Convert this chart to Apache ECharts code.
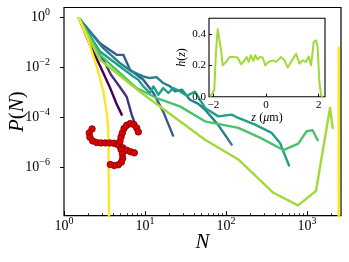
<!DOCTYPE html>
<html><head><meta charset="utf-8">
<script src="https://cdn.jsdelivr.net/npm/echarts@6/dist/echarts.min.js"></script>
<style>html,body{margin:0;padding:0;background:#fff}#c{width:349px;height:262px}</style>
</head><body><div id="c"></div>
<script>
// ---- tick values ----
const xMajorTicks = [1, 10, 100, 1000];
const xMinorTicks = [2,3,4,5,6,7,8,9,20,30,40,50,60,70,80,90,200,300,400,500,600,700,800,900,2000];
const yMajorTicks = [1e-6, 1e-4, 1e-2, 1];
const insetXTicks = [-2, 0, 2];
const insetYTicks = [0, 0.2, 0.4];

// ---- main panel series: N values and P(N) values ----
const purpleN = [1.53, 2.09, 2.82, 3.70, 4.39, 5.16];
const purpleP = [0.91, 0.0785, 0.0104, 1.51e-3, 3.82e-4, 1.27e-4];
const indigoN = [1.53, 2.22, 3.06, 3.80, 4.68, 5.94, 6.85, 8.27];
const indigoP = [0.91, 0.0944, 0.0198, 4.99e-3, 2.0e-3, 6.6e-4, 1.27e-4, 2.36e-5];
const blueN = [1.53, 2.78, 4.47, 5.40, 6.53, 9.53, 12.7, 16.8, 22.2];
const blueP = [0.91, 0.0918, 0.0313, 0.0313, 7.9e-3, 3.16e-3, 9.3e-4, 1.67e-4, 1.84e-5];
const tealN = [1.53, 3.06, 4.91, 6.85, 9.53, 11.5, 13.9, 16.8, 20.4, 23.5, 28.6, 35.9, 45.1, 55.1, 79.6, 117.5];
const tealP = [0.91, 0.058, 0.0146, 6.8e-3, 4.27e-3, 3.69e-3, 4.04e-3, 2.33e-3, 1.71e-3, 1.08e-3, 1.26e-3, 5.0e-4, 3.48e-4, 2.0e-4, 5.06e-5, 8.05e-6];
const tealGreenN = [1.53, 2.78, 4.91, 7.17, 8.27, 9.53, 11.5, 12.7, 14.6, 16.8, 19.4, 22.4, 27.0, 33.0, 41.4, 55.1, 80.3, 117.5, 142, 228, 367, 464, 600];
const tealGreenP = [0.91, 0.0425, 0.0107, 4.27e-3, 3.16e-3, 1.71e-3, 9.3e-4, 1.71e-3, 7.9e-4, 1.47e-3, 9.3e-4, 1.47e-3, 1.08e-3, 7.26e-4, 1.05e-3, 2.34e-4, 1.08e-4, 1.27e-4, 9.35e-5, 5.06e-5, 2.36e-5, 9.4e-6, 1.17e-6];
const greenN = [1.53, 2.78, 4.91, 7.90, 13.9, 27.0, 55.1, 142, 263, 510, 781, 991, 1175, 1356];
const greenP = [0.91, 0.0313, 5.83e-3, 1.47e-3, 5.87e-4, 2.72e-4, 6.85e-5, 3.73e-5, 1.53e-5, 4.86e-6, 8.83e-6, 2.74e-5, 3.0e-5, 1.2e-5];
const limeN = [1.53, 2.09, 2.78, 8.68, 27.0, 55.1, 142, 384, 774, 1291, 1923, 2075];
const limeP = [0.91, 0.1245, 0.0198, 1.05e-3, 6.85e-5, 1.26e-5, 2.04e-6, 9.5e-8, 2.97e-8, 1.12e-7, 2.34e-4, 3.73e-5];
const yellowN = [1.53, 1.98, 2.53, 3.07, 3.40, 3.54, 3.65, 2462, 2462, 2500];
const yellowP = [0.91, 0.1245, 0.0107, 1.05e-3, 1.26e-4, 2.02e-5, 1e-12, 1e-12, 0.0612, 1e-12];

// ---- red dots ----
const redN = [2.22, 2.05, 2.09, 2.26, 2.53, 2.86, 3.24, 3.67, 4.11, 4.55, 4.82, 4.91, 5.06, 5.25, 5.51, 5.94, 6.59, 7.31, 7.90, 8.27, 5.31, 5.94, 6.66, 7.38, 5.06, 5.25, 5.31, 5.10, 4.68, 4.18, 3.73];
const redP = [3.41e-5, 2.36e-5, 1.57e-5, 1.13e-5, 9.7e-6, 9.4e-6, 9.4e-6, 9.4e-6, 9.1e-6, 8.3e-6, 7.35e-6, 1.09e-5, 1.63e-5, 2.36e-5, 3.5e-5, 4.74e-5, 5.55e-5, 5.06e-5, 3.73e-5, 2.59e-5, 5.96e-6, 4.78e-6, 4.12e-6, 3.76e-6, 5.09e-6, 3.43e-6, 2.29e-6, 1.59e-6, 1.25e-6, 1.17e-6, 1.28e-6];

// ---- inset h(z) ----
const insetZ = [-2.12, -2.05, -1.97, -1.90, -1.84, -1.78, -1.71, -1.65, -1.52, -1.39, -1.27, -1.08, -0.95, -0.825, -0.74, -0.66, -0.57, -0.48, -0.41, -0.32, -0.23, -0.13, -0.03, 0.10, 0.25, 0.38, 0.57, 0.70, 0.82, 0.99, 1.14, 1.27, 1.39, 1.52, 1.62, 1.71, 1.81, 1.90, 1.96, 2.03, 2.09, 2.15];
const insetH = [0, 0, 0.042, 0.30, 0.43, 0.42, 0.296, 0.20, 0.222, 0.253, 0.253, 0.25, 0.207, 0.231, 0.253, 0.222, 0.264, 0.228, 0.264, 0.237, 0.253, 0.25, 0.20, 0.222, 0.232, 0.222, 0.253, 0.232, 0.186, 0.232, 0.274, 0.211, 0.232, 0.222, 0.257, 0.20, 0.348, 0.36, 0.316, 0.085, 0.01, 0];

const F = '"Liberation Serif","DejaVu Serif",serif';
const zip = (a, b) => a.map((v, i) => [v, b[i]]);
function sci(v) {
  const e = Math.round(Math.log10(v));
  return '{b|10}{s|' + (e < 0 ? '\u2212' + (-e) : e) + '}';
}
const supRich = {
  b: { fontSize: 14, fontFamily: F, color: '#000', verticalAlign: 'bottom', lineHeight: 15 },
  s: { fontSize: 10, fontFamily: F, color: '#000', verticalAlign: 'bottom', lineHeight: 10, padding: [0, 0, 7, 0] }
};
const nameRich = (size) => ({
  i: { fontStyle: 'italic', fontSize: size, fontFamily: F, color: '#000' },
  r: { fontSize: size, fontFamily: F, color: '#000' }
});

const lineS = (name, N, P, color) => ({
  name, type: 'line', xAxisIndex: 0, yAxisIndex: 0, data: zip(N, P),
  showSymbol: false, symbol: 'none', z: 2,
  lineStyle: { color, width: 2.4, join: 'round', cap: 'round' }
});

const chart = echarts.init(document.getElementById('c'), null, { renderer: 'canvas' });
chart.setOption({
  animation: false,
  backgroundColor: '#fff',
  grid: [
    { left: 64, top: 7.5, right: 8, bottom: 46.3, show: true, borderColor: '#000', borderWidth: 1.2, backgroundColor: 'transparent', z: 0, outerBoundsMode: 'none' },
    { left: 209, top: 18.3, width: 116, height: 78.4, show: true, borderColor: '#000', borderWidth: 1.1, backgroundColor: '#fff', z: 10, outerBoundsMode: 'none' }
  ],
  xAxis: [
    { gridIndex: 0, type: 'log', logBase: 10, min: 1, max: 2630, position: 'bottom',
      axisLine: { show: false }, splitLine: { show: false },
      axisTick: { show: true, inside: true, length: 4.5, customValues: xMajorTicks, lineStyle: { color: '#000', width: 1 } },
      axisLabel: { customValues: xMajorTicks, formatter: sci, margin: 3, rich: supRich },
      name: '{i|N}', nameLocation: 'middle', nameGap: 16, nameMoveOverlap: false, nameTextStyle: { rich: nameRich(21) } },
    { gridIndex: 0, type: 'log', logBase: 10, min: 1, max: 2630, position: 'bottom',
      axisLine: { show: false }, splitLine: { show: false }, axisLabel: { show: false },
      axisTick: { show: true, inside: true, length: 2.5, customValues: xMinorTicks, lineStyle: { color: '#000', width: 0.8 } } },
    { gridIndex: 1, type: 'value', min: -2.17, max: 2.24, z: 12,
      axisLine: { show: false, onZero: false }, splitLine: { show: false },
      axisTick: { show: true, inside: true, length: 3, customValues: insetXTicks, lineStyle: { color: '#000', width: 1 } },
      axisLabel: { customValues: insetXTicks, margin: 3, fontSize: 11, fontFamily: F, color: '#000',
        formatter: v => (v < 0 ? '\u2212' + (-v) : String(v)) },
      name: '{i|z} {r|(}{i|\u03bc}{r|m)}', nameLocation: 'middle', nameGap: 15, nameMoveOverlap: false, nameTextStyle: { rich: nameRich(12) } }
  ],
  yAxis: [
    { gridIndex: 0, type: 'log', logBase: 10, min: 1.15e-8, max: 2.45,
      axisLine: { show: false }, splitLine: { show: false },
      axisTick: { show: true, inside: false, length: 4, customValues: yMajorTicks, lineStyle: { color: '#000', width: 1 } },
      axisLabel: { customValues: yMajorTicks, formatter: sci, margin: 14, rich: supRich },
      name: '{i|P}{r|(}{i|N}{r|)}', nameLocation: 'middle', nameGap: 36, nameMoveOverlap: false, nameTextStyle: { rich: nameRich(21) } },
    { gridIndex: 1, type: 'value', min: 0, max: 0.5, z: 12,
      axisLine: { show: false, onZero: false }, splitLine: { show: false },
      axisTick: { show: true, inside: true, length: 3, customValues: insetYTicks, lineStyle: { color: '#000', width: 1 } },
      axisLabel: { customValues: insetYTicks, margin: 3, fontSize: 11, fontFamily: F, color: '#000',
        formatter: v => v.toFixed(1) },
      name: '{i|h}{r|(}{i|z}{r|)}', nameLocation: 'middle', nameGap: 21, nameMoveOverlap: false, nameTextStyle: { rich: nameRich(12) } }
  ],
  series: [
    lineS('c0', purpleN, purpleP, '#440154'),
    lineS('c1', indigoN, indigoP, '#46327e'),
    lineS('c2', blueN, blueP, '#365c8d'),
    lineS('c3', tealN, tealP, '#277f8e'),
    lineS('c4', tealGreenN, tealGreenP, '#1fa187'),
    lineS('c5', greenN, greenP, '#4ac16d'),
    lineS('c6', limeN, limeP, '#a0da39'),
    lineS('c7', yellowN, yellowP, '#fde725'),
    { type: 'scatter', xAxisIndex: 0, yAxisIndex: 0, data: zip(redN, redP), symbol: 'circle', symbolSize: 6.5, z: 4,
      itemStyle: { color: '#e00000', borderColor: '#7a0000', borderWidth: 0.8, opacity: 1 } },
    { type: 'line', xAxisIndex: 2, yAxisIndex: 1, data: zip(insetZ, insetH), showSymbol: false, symbol: 'none', z: 12,
      lineStyle: { color: '#a0da39', width: 2, join: 'round' } }
  ]
});
</script></body></html>
